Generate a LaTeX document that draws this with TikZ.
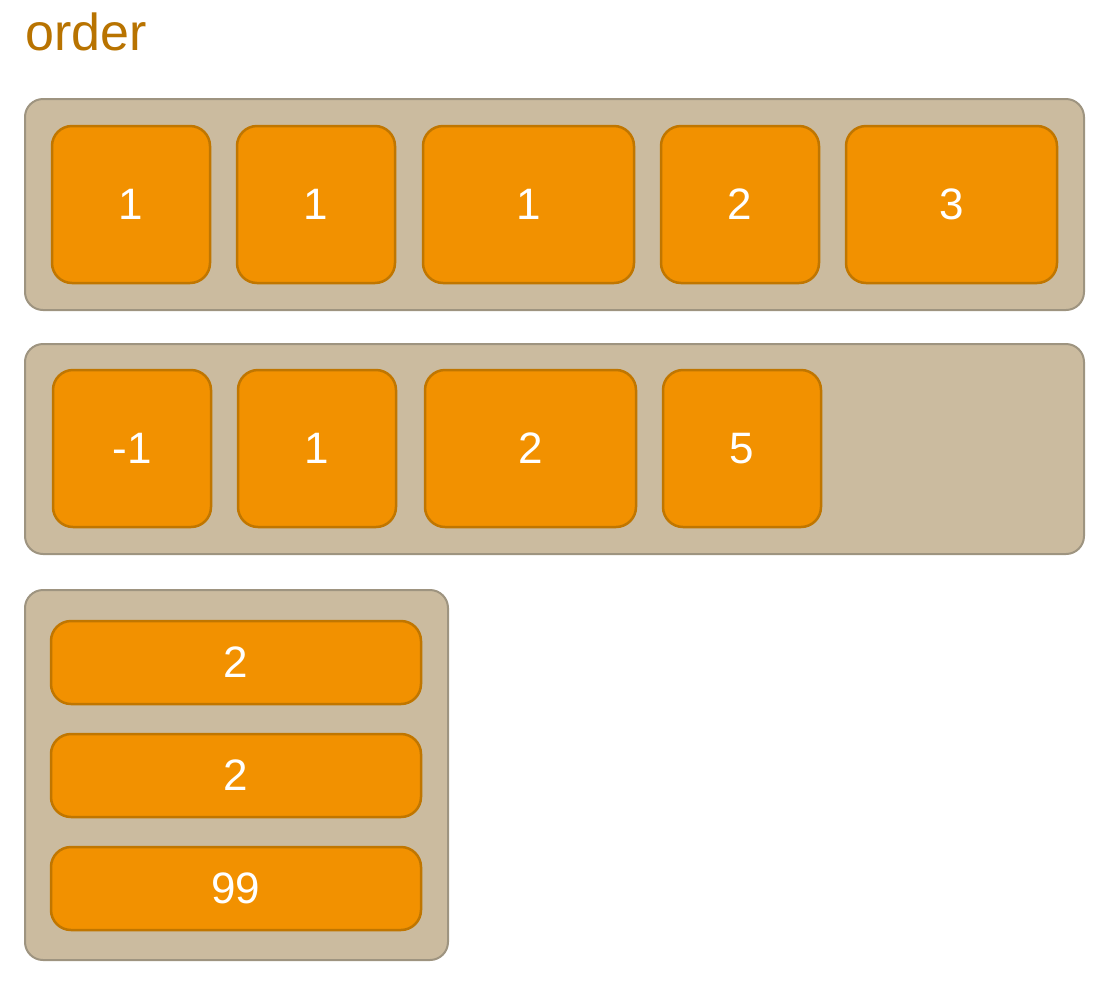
\documentclass[tikz,border=0pt]{standalone}
\usepackage{fontspec}
\setmainfont{Liberation Sans}
\usepackage{tikz}

\definecolor{boxfill}{RGB}{203,187,159}
\definecolor{boxline}{RGB}{158,148,128}
\definecolor{itemfill}{RGB}{242,145,0}
\definecolor{itemline}{RGB}{192,118,0}
\definecolor{titlecol}{RGB}{184,115,0}

\tikzset{
	flexbox/.style={draw=boxline, fill=boxfill, line width=2pt, rounded corners=18pt, inner sep=0pt},
	flexitem/.style={draw=itemline, fill=itemfill, line width=2.5pt, rounded corners=20pt, inner sep=0pt,
		text=white, font=\fontsize{44}{52}\selectfont},
}

\begin{document}
\begin{tikzpicture}[x=1pt, y=-1pt]
		
		% Fix the size of the page
		\useasboundingbox (0,0) rectangle (1112,989);
		
		% Title
		\node[anchor=base west, inner sep=0pt, text=titlecol, font=\fontsize{52}{62}\selectfont] (title) at (25,50) {order};
		
		% The three containers
		\node[flexbox, minimum width=1059pt, minimum height=211pt] (row1) at (554.5,204.5) {};
		\node[flexbox, minimum width=1059pt, minimum height=210pt] (row2) at (554.5,449) {};
		\node[flexbox, minimum width=423pt, minimum height=370pt] (col) at (236.5,775) {};
		
		% Items of the first row
		\foreach \name/\x/\w/\val in {a/131/158/1, b/316/158/1, c/528.5/211/1, d/740/158/2, e/951.5/211/3}
		\node[flexitem, minimum width=\w pt, minimum height=157pt] (row1\name) at (\x,204.5) {\val};
		
		% Items of the second row
		\foreach \name/\x/\w/\val in {a/132/158/-1, b/317/158/1, c/530.5/211/2, d/742/158/5}
		\node[flexitem, minimum width=\w pt, minimum height=157pt] (row2\name) at (\x,448.5) {\val};
		
		% Items of the column
		\foreach \name/\y/\val in {a/662.5/2, b/775.5/2, c/888.5/99}
		\node[flexitem, minimum width=370pt, minimum height=83pt] (col\name) at (236,\y) {\val};
		
	\end{tikzpicture}
\end{document}
